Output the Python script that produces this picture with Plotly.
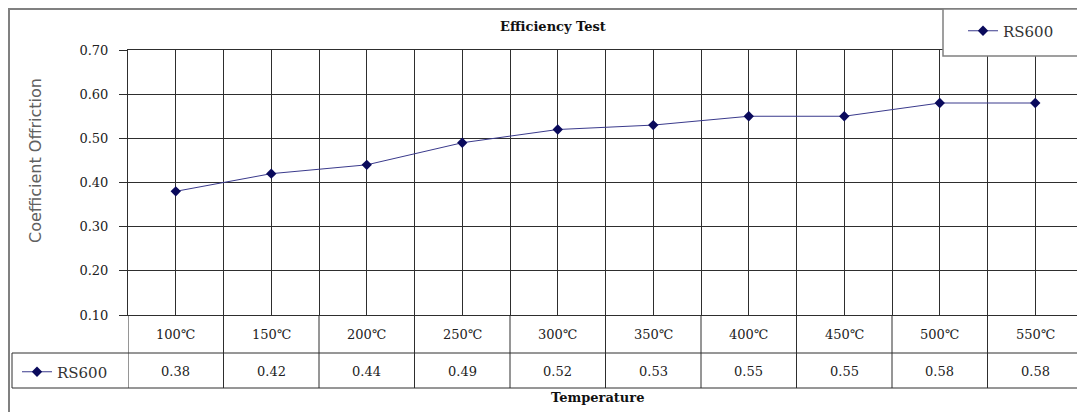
import plotly.graph_objects as go

# ---- data ----
categories = ["100℃", "150℃", "200℃", "250℃", "300℃", "350℃", "400℃", "450℃", "500℃", "550℃"]
rs600 = [0.38, 0.42, 0.44, 0.49, 0.52, 0.53, 0.55, 0.55, 0.58, 0.58]
series_name = "RS600"
y_ticks = [0.10, 0.20, 0.30, 0.40, 0.50, 0.60, 0.70]

# the page body adds an 8px margin, so the figure starts at page (8, 8)
OFF = 8
W, H = 1085 - OFF, 412 - OFF
PLOT_L, PLOT_R, PLOT_T, PLOT_B = 128, 1083, 50, 315   # page coordinates
ML, MR, MT, MB = PLOT_L - OFF, (W + OFF) - PLOT_R, PLOT_T - OFF, (H + OFF) - PLOT_B
PW, PH = PLOT_R - PLOT_L, PLOT_B - PLOT_T

def px(xpage):
    return (xpage - PLOT_L) / PW

def py(ypage):
    return (PLOT_B - ypage) / PH

GRID = "#2e2e2e"
FRAME = "#808080"
SERIF = "DejaVu Serif"
LINE_C = "#3a3a8c"
MARK_C = "#0a0a5c"

n = len(categories)
xs = list(range(n))
bounds = [i - 0.5 for i in range(n + 1)]

fig = go.Figure()
fig.add_trace(go.Scatter(
    x=xs, y=rs600, mode="lines+markers", name=series_name,
    line=dict(color=LINE_C, width=1),
    marker=dict(symbol="diamond", size=8, color=MARK_C),
    legend="legend",
))
# duplicate key for the data-table legend cell
fig.add_trace(go.Scatter(
    x=[None], y=[None], mode="lines+markers", name=series_name,
    line=dict(color=LINE_C, width=1),
    marker=dict(symbol="diamond", size=8, color=MARK_C),
    legend="legend2",
))

shapes = []
# outer frame
shapes.append(dict(type="rect", xref="paper", yref="paper",
                   x0=px(9), x1=px(1083), y0=py(430), y1=py(9),
                   line=dict(color=FRAME, width=2), layer="below"))
# legend box
shapes.append(dict(type="rect", xref="paper", yref="paper",
                   x0=px(943), x1=px(1090), y0=py(56), y1=py(9),
                   line=dict(color=FRAME, width=1.5), fillcolor="white", layer="above"))
# data table lines
for yy in (353, 388):
    shapes.append(dict(type="line", xref="paper", yref="paper",
                       x0=px(12), x1=1, y0=py(yy), y1=py(yy),
                       line=dict(color=GRID, width=1)))
shapes.append(dict(type="line", xref="paper", yref="paper",
                   x0=px(12), x1=px(12), y0=py(353), y1=py(388),
                   line=dict(color=GRID, width=1)))
for b in bounds:
    shapes.append(dict(type="line", xref="x", yref="paper",
                       x0=b, x1=b, y0=0, y1=py(388),
                       line=dict(color=GRID, width=1)))

annotations = []
for i, (c, v) in enumerate(zip(categories, rs600)):
    annotations.append(dict(x=i, y=py(334), xref="x", yref="paper", text=c,
                            xanchor="center", yanchor="middle",
                            showarrow=False, font=dict(family=SERIF, size=13, color="#222")))
    annotations.append(dict(x=i, y=py(371), xref="x", yref="paper", text=f"{v:.2f}",
                            xanchor="center", yanchor="middle",
                            showarrow=False, font=dict(family=SERIF, size=13, color="#222")))
annotations.append(dict(x=px(553), y=py(26), xref="paper", yref="paper",
                        xanchor="center", yanchor="middle",
                        text="<b>Efficiency Test</b>", showarrow=False,
                        font=dict(family=SERIF, size=13, color="#111")))
annotations.append(dict(x=px(597), y=py(397), xref="paper", yref="paper",
                        xanchor="center", yanchor="middle",
                        text="<b>Temperature</b>", showarrow=False,
                        font=dict(family=SERIF, size=13, color="#111")))
annotations.append(dict(x=px(35), y=py(161), xref="paper", yref="paper",
                        xanchor="center", yanchor="middle",
                        text="Coefficient Offriction", textangle=-90, showarrow=False,
                        font=dict(family="DejaVu Sans", size=16, color="#606060")))

fig.update_layout(
    width=W, height=H,
    font=dict(family=SERIF, size=13, color="#222"),
    margin=dict(l=ML, r=MR, t=MT, b=MB, autoexpand=False),
    paper_bgcolor="white", plot_bgcolor="white",
    showlegend=True,
    legend=dict(x=px(963), y=py(31), xanchor="left", yanchor="middle",
                bgcolor="rgba(0,0,0,0)", borderwidth=0,
                font=dict(family=SERIF, size=15, color="#333")),
    legend2=dict(x=px(17), y=py(372), xanchor="left", yanchor="middle",
                 bgcolor="rgba(0,0,0,0)", borderwidth=0,
                 font=dict(family=SERIF, size=15, color="#333")),
    xaxis=dict(range=[-0.5, n - 0.5], tickvals=xs, showticklabels=False,
               showgrid=True, gridcolor=GRID, gridwidth=1, ticks="",
               minor=dict(tickvals=bounds, showgrid=True, gridcolor=GRID, gridwidth=1, ticks=""),
               showline=True, linecolor=GRID, linewidth=1, mirror=True, zeroline=False,
               automargin=False, fixedrange=True),
    yaxis=dict(range=[0.1, 0.7], tickvals=y_ticks, tickformat=".2f",
               showgrid=True, gridcolor=GRID, gridwidth=1,
               ticks="outside", ticklen=8, tickcolor=GRID, ticklabelstandoff=8,
               tickfont=dict(family=SERIF, size=13, color="#222"),
               showline=True, linecolor=GRID, linewidth=1, mirror=True, zeroline=False,
               automargin=False, fixedrange=True),
    shapes=shapes,
    annotations=annotations,
)

fig.write_html("out.html")
